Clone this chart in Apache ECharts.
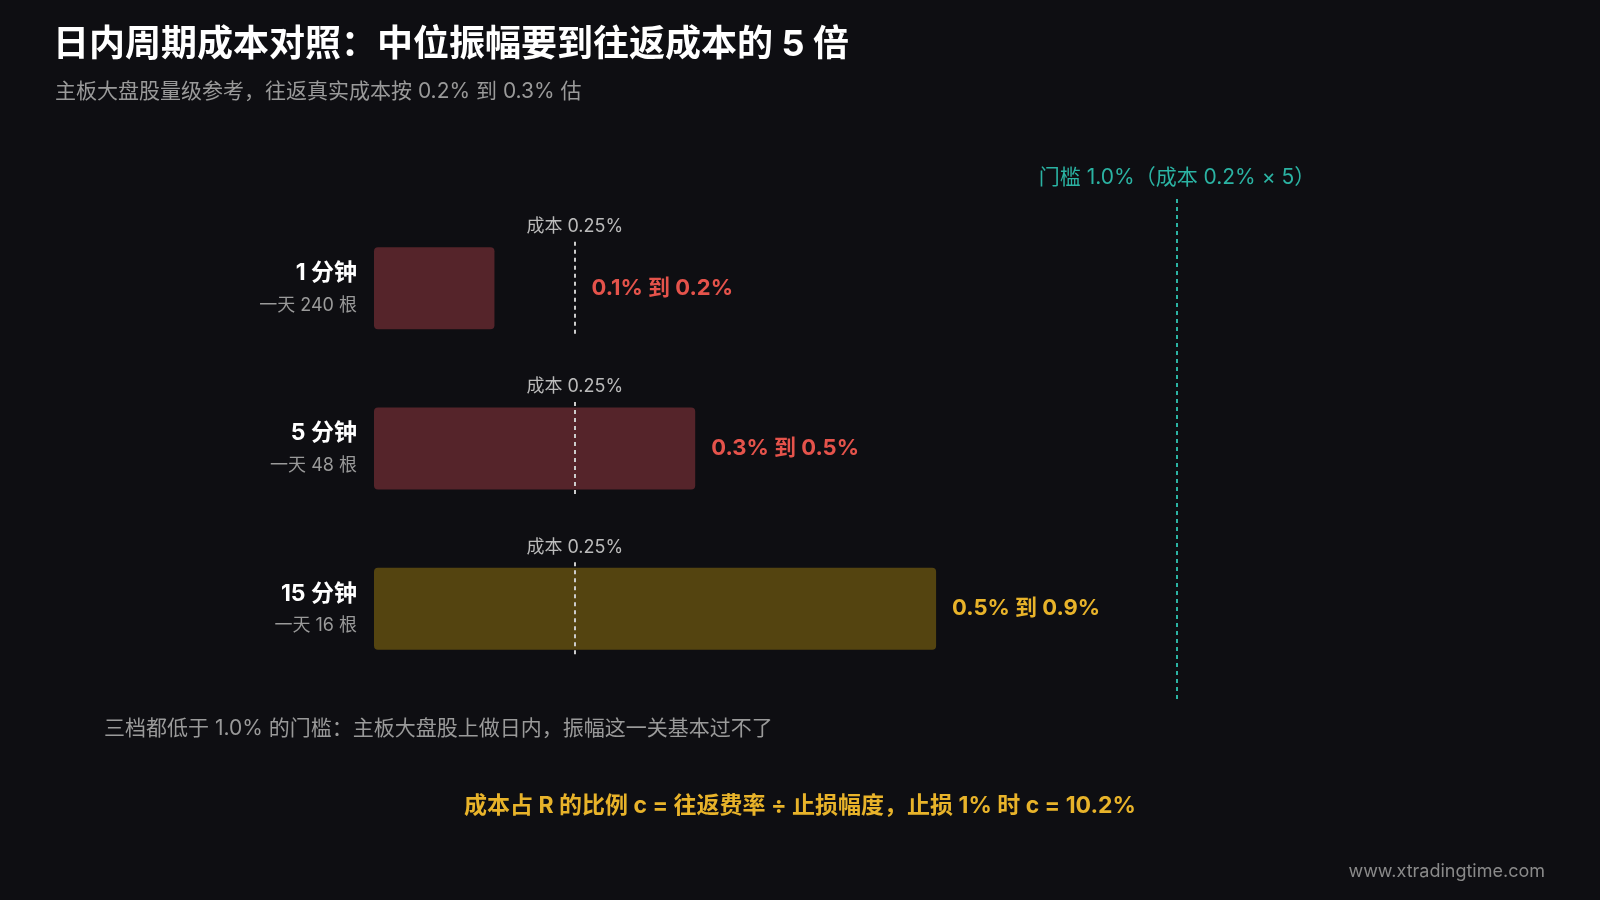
<!DOCTYPE html>
<html lang="zh">
<head>
<meta charset="UTF-8">
<title>日内周期成本对照</title>
<script src="https://cdn.jsdelivr.net/npm/echarts@6/dist/echarts.min.js"></script>
<style>
  html, body { margin: 0; padding: 0; background: #0e0e12; }
  #container { width: 1600px; height: 900px; }
</style>
</head>
<body>
<div id="container"></div>
<script type="text/javascript">
    // 数据
    var periods = ['1 分钟', '5 分钟', '15 分钟'];
    var barsPerDay = ['一天 240 根', '一天 48 根', '一天 16 根'];
    var rangeText = ['0.1% 到 0.2%', '0.3% 到 0.5%', '0.5% 到 0.9%'];
    var rangeMid = [0.15, 0.40, 0.70];
    var costLine = 0.25;
    var threshold = 1.0;

    var barFill = ['#55242a', '#55242a', '#544410'];
    var textColor = ['#e5534b', '#e5534b', '#e8b32a'];
    var labelDist = [97, 16, 16];

    var font = 'Inter, "Noto Sans CJK SC", sans-serif';
    var myChart = echarts.init(document.getElementById('container'));

    var barData = rangeMid.map(function (v, i) {
        return {
            value: v,
            itemStyle: { color: barFill[i], borderRadius: 4 },
            label: { color: textColor[i], distance: labelDist[i] }
        };
    });

    var costLines = periods.map(function (p, i) {
        return [
            { coord: [costLine, i - 0.29], label: { show: true, position: 'start', formatter: '成本 0.25%',
                color: '#bbbbbb', fontSize: 18, fontFamily: font, distance: 6 } },
            { coord: [costLine, i + 0.29] }
        ];
    });

    var option = {
        backgroundColor: '#0e0e12',
        textStyle: { fontFamily: font },
        title: [
            { text: '日内周期成本对照：中位振幅要到往返成本的 5 倍', left: 48, top: 22,
              textStyle: { color: '#ffffff', fontSize: 36, fontWeight: 'bold', fontFamily: font } },
            { text: '主板大盘股量级参考，往返真实成本按 0.2% 到 0.3% 估', left: 50, top: 76,
              textStyle: { color: '#9a9a9a', fontSize: 21, fontWeight: 'normal', fontFamily: font } },
            { text: '三档都低于 1.0% 的门槛：主板大盘股上做日内，振幅这一关基本过不了', left: 99, top: 713,
              textStyle: { color: '#9a9a9a', fontSize: 21, fontWeight: 'normal', fontFamily: font } },
            { text: '成本占 R 的比例 c = 往返费率 ÷ 止损幅度，止损 1% 时 c = 10.2%', left: 'center', top: 790,
              textStyle: { color: '#e8b32a', fontSize: 23, fontWeight: 'bold', fontFamily: font } },
            { text: 'www.xtradingtime.com', right: 50, top: 858,
              textStyle: { color: '#8a8a8a', fontSize: 18, fontWeight: 'normal', fontFamily: font } }
        ],
        grid: [
            { left: 374, right: 1600 - 1177, top: 208, bottom: 900 - 689 },
            { left: 374, right: 1600 - 1177, top: 196, bottom: 900 - 699 }
        ],
        xAxis: [
            { type: 'value', min: 0, max: 1, show: false, gridIndex: 0 },
            { type: 'value', min: 0, max: 1, show: false, gridIndex: 1 }
        ],
        yAxis: [{
            type: 'category', data: periods, inverse: true, gridIndex: 0,
            axisLine: { show: false }, axisTick: { show: false }, splitLine: { show: false },
            axisLabel: {
                margin: 17, align: 'right',
                formatter: function (v, i) { return '{a|' + v + '}\n{b|' + barsPerDay[i] + '}'; },
                rich: {
                    a: { color: '#ffffff', fontSize: 23, fontWeight: 'bold', fontFamily: font, align: 'right', lineHeight: 34 },
                    b: { color: '#9a9a9a', fontSize: 18, fontFamily: font, align: 'right', lineHeight: 30 }
                }
            }
        }, {
            type: 'value', min: -0.5, max: 2.5, inverse: true, show: false, gridIndex: 0
        }, {
            type: 'value', min: 0, max: 1, show: false, gridIndex: 1
        }],
        series: [{
            type: 'bar', data: barData, barWidth: 82,
            label: {
                show: true, position: 'right', fontSize: 22, fontWeight: 'bold', fontFamily: font,
                formatter: function (p) { return rangeText[p.dataIndex]; }
            }
        }, {
            type: 'scatter', yAxisIndex: 1, data: [], clip: false,
            markLine: {
                symbol: 'none', silent: true, animation: false,
                lineStyle: { color: '#cccccc', width: 2, type: [4, 4] },
                data: costLines
            }
        }, {
            type: 'scatter', xAxisIndex: 1, yAxisIndex: 2, data: [], clip: false,
            markLine: {
                symbol: 'none', silent: true, animation: false,
                lineStyle: { color: '#2bb3a3', width: 2, type: [4, 4] },
                label: { show: true, position: 'end', formatter: '门槛 1.0%（成本 0.2% × 5）',
                    color: '#2bb3a3', fontSize: 21, fontFamily: font, distance: 8 },
                data: [[{ coord: [threshold, 0] }, { coord: [threshold, 1] }]]
            }
        }]
    };
    myChart.setOption(option);
</script>
</body>
</html>
